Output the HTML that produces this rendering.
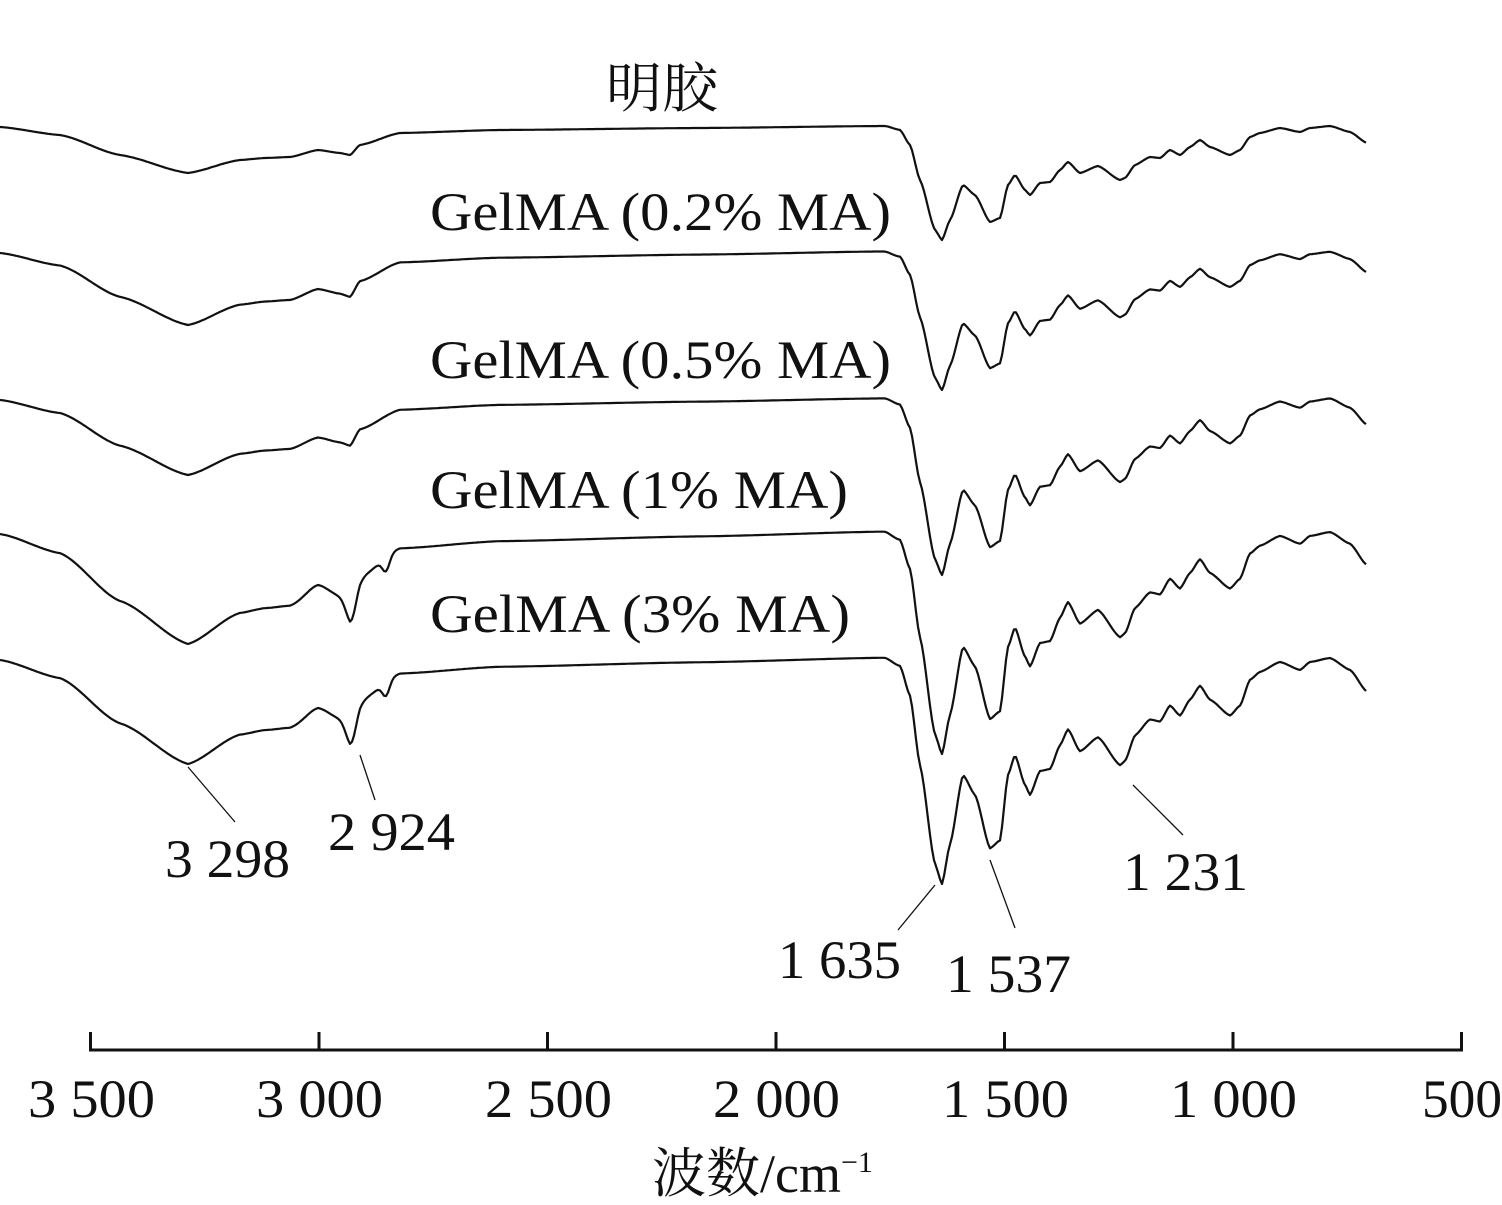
<!DOCTYPE html>
<html><head><meta charset="utf-8"><style>
html,body{margin:0;padding:0;background:#fff;}
svg{display:block;}
text{font-family:"Liberation Serif","Noto Serif CJK SC",serif;fill:#111;}
</style></head><body>
<svg id="s" width="1502" height="1205" viewBox="0 0 1502 1205" xmlns="http://www.w3.org/2000/svg">
<g id="curves" fill="none" stroke="#111" stroke-width="2.2" stroke-linejoin="round"></g>
<g stroke="#111" stroke-width="3">
<line x1="89" y1="1050" x2="1463" y2="1050"/>
<line x1="90.5" y1="1032" x2="90.5" y2="1050"/>
<line x1="319" y1="1032" x2="319" y2="1050"/>
<line x1="547.5" y1="1032" x2="547.5" y2="1050"/>
<line x1="776" y1="1032" x2="776" y2="1050"/>
<line x1="1004.5" y1="1032" x2="1004.5" y2="1050"/>
<line x1="1233" y1="1032" x2="1233" y2="1050"/>
<line x1="1461.5" y1="1032" x2="1461.5" y2="1050"/>
</g>
<g stroke="#111" stroke-width="1.3">
<line x1="188" y1="767" x2="235" y2="822"/>
<line x1="360" y1="755" x2="375" y2="800"/>
<line x1="935" y1="885" x2="898" y2="930"/>
<line x1="990" y1="860" x2="1015" y2="928"/>
<line x1="1133" y1="785" x2="1183" y2="835"/>
</g>
<g font-size="54">
<text x="28" y="1117" textLength="127" lengthAdjust="spacingAndGlyphs">3 500</text>
<text x="256" y="1117" textLength="127" lengthAdjust="spacingAndGlyphs">3 000</text>
<text x="485" y="1117" textLength="127" lengthAdjust="spacingAndGlyphs">2 500</text>
<text x="713" y="1117" textLength="127" lengthAdjust="spacingAndGlyphs">2 000</text>
<text x="942" y="1117" textLength="127" lengthAdjust="spacingAndGlyphs">1 500</text>
<text x="1170" y="1117" textLength="127" lengthAdjust="spacingAndGlyphs">1 000</text>
<text x="1422" y="1117" textLength="80" lengthAdjust="spacingAndGlyphs">500</text>
<text x="165" y="877" textLength="125" lengthAdjust="spacingAndGlyphs">3 298</text>
<text x="328" y="850" textLength="127" lengthAdjust="spacingAndGlyphs">2 924</text>
<text x="778" y="978" textLength="123" lengthAdjust="spacingAndGlyphs">1 635</text>
<text x="946" y="992" textLength="125" lengthAdjust="spacingAndGlyphs">1 537</text>
<text x="1123" y="890" textLength="125" lengthAdjust="spacingAndGlyphs">1 231</text>
<text x="430" y="230" textLength="461" lengthAdjust="spacingAndGlyphs">GelMA (0.2% MA)</text>
<text x="430" y="378" textLength="461" lengthAdjust="spacingAndGlyphs">GelMA (0.5% MA)</text>
<text x="430" y="508" textLength="418" lengthAdjust="spacingAndGlyphs">GelMA (1% MA)</text>
<text x="430" y="632" textLength="420" lengthAdjust="spacingAndGlyphs">GelMA (3% MA)</text>
<text x="606" y="107" font-size="54" textLength="112" lengthAdjust="spacingAndGlyphs">明胶</text>
<text x="652" y="1192" font-size="54">波数/cm<tspan font-size="30" dy="-20">−1</tspan></text>
</g>
</svg>
<script>
var T=[[0,127],[60,135],[120,155],[188,173],[240,160],[265,158],[290,157],[318,150],[340,153],[350,155],[360,145],[400,133],[500,130],[700,128],[885,126],[900,130],[910,145],[920,180],[935,230],[942,240],[950,220],[963,185],[975,195],[990,222],[1000,218],[1008,185],[1015,175],[1025,190],[1030,195],[1040,183],[1050,182],[1060,170],[1068,162],[1080,173],[1098,166],[1120,180],[1125,178],[1135,165],[1150,157],[1160,158],[1170,150],[1180,155],[1190,147],[1200,140],[1210,147],[1230,155],[1240,150],[1250,137],[1260,133],[1280,128],[1300,132],[1310,128],[1330,126],[1350,132],[1367,143]];
var C=[[127,1,1,0],[253,72/46,137/113,0],[400,75/46,175/113,0],[534,110/46,220/113,1],[660,104/46,224/113,1]];
function interp(x){for(var i=1;i<T.length;i++){if(x<=T[i][0]){var a=T[i-1],b=T[i];var t=(x-a[0])/(b[0]-a[0]);t=t*t*(3-2*t)*0.5+t*0.5;return a[1]+(b[1]-a[1])*t;}}return T[T.length-1][1];}
var g=document.getElementById('curves');
C.forEach(function(c){var d='';for(var x=0;x<=1367;x+=2){var r=interp(x)-127;var s;if(x<880)s=c[1];else if(x>900)s=c[2];else s=c[1]+(c[2]-c[1])*(x-880)/20;var y=c[0]+r*s;if(c[3]){y+=22*Math.exp(-Math.pow((x-352)/8,2))+14*Math.exp(-Math.pow((x-386)/5,2))-4*Math.exp(-Math.pow((x-318)/15,2));}d+=(x?'L':'M')+x+' '+y.toFixed(1);}var p=document.createElementNS('http://www.w3.org/2000/svg','path');p.setAttribute('d',d);g.appendChild(p);});
</script>
</body></html>
